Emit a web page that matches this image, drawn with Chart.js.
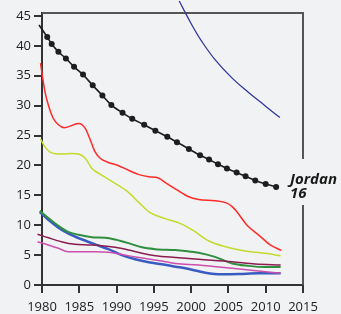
<!DOCTYPE html>
<html>
<head>
<meta charset="utf-8">
<script src="https://cdn.jsdelivr.net/npm/chart.js@4"></script>
<style>
  body { margin: 0; background: #f1f2f4; }
  canvas { display: block; }
</style>
</head>
<body>
<canvas id="chart" width="341" height="314"></canvas>
<script>
const xTicks = [1980, 1985, 1990, 1995, 2000, 2005, 2010, 2015];
const yTicks = [0, 5, 10, 15, 20, 25, 30, 35, 40, 45];

// Jordan (black, dotted)
const jordanYears = [1979.6, 1980.7, 1981.3, 1982.2, 1983.2, 1984.3, 1985.5, 1986.8, 1988.1, 1989.3, 1990.8, 1992.1, 1993.7, 1995.2, 1996.8, 1998.1, 1999.7, 2001.2, 2002.4, 2003.6, 2004.8, 2006.1, 2007.3, 2008.6, 2010.0, 2011.4];
const jordanValues = [43.5, 41.5, 40.3, 39.0, 37.9, 36.5, 35.2, 33.4, 31.7, 30.1, 28.8, 27.8, 26.8, 25.8, 24.8, 23.9, 22.75, 21.7, 21.0, 20.2, 19.5, 18.8, 18.2, 17.5, 16.9, 16.4];

const navyYears = [1998.4, 2000.1, 2001.4, 2003.2, 2005.5, 2007.7, 2009.9, 2011.9];
const navyValues = [47.5, 43.5, 40.8, 37.7, 34.6, 32.2, 30.0, 28.0];

const redYears = [1979.8, 1980.4, 1980.85, 1981.5, 1982.2, 1983.0, 1984.9, 1985.8, 1986.4, 1987.1, 1987.8, 1988.9, 1990.2, 1991.6, 1992.9, 1994.3, 1995.6, 1996.7, 1998.1, 1999.6, 2001.0, 2003.2, 2004.8, 2005.5, 2006.1, 2007.5, 2009.3, 2010.6, 2012.1];
const redValues = [37.1, 32.3, 30.1, 27.9, 26.8, 26.3, 27.0, 26.2, 24.5, 22.3, 21.2, 20.5, 20.0, 19.2, 18.5, 18.1, 17.9, 17.0, 15.9, 14.8, 14.3, 14.1, 13.7, 13.1, 12.3, 10.0, 8.1, 6.7, 5.8];

const limeYears = [1979.8, 1980.4, 1981.3, 1982.6, 1984.0, 1984.9, 1985.8, 1986.7, 1988.0, 1989.8, 1991.6, 1992.9, 1994.5, 1996.5, 1998.5, 2000.3, 2002.3, 2004.6, 2007.7, 2009.9, 2012.0];
const limeValues = [24.4, 23.1, 22.1, 21.9, 22.0, 21.9, 21.2, 19.5, 18.4, 17.0, 15.5, 13.9, 12.1, 11.1, 10.3, 9.1, 7.4, 6.4, 5.6, 5.3, 4.9];

const greenYears = [1979.7, 1980.85, 1982.2, 1983.5, 1984.9, 1986.7, 1988.5, 1989.8, 1991.6, 1993.4, 1995.2, 1997.9, 1999.2, 2001.0, 2003.2, 2005.5, 2007.7, 2009.9, 2012.0];
const greenValues = [12.4, 11.2, 9.9, 8.9, 8.4, 8.0, 7.9, 7.6, 7.0, 6.3, 6.0, 5.85, 5.7, 5.4, 4.7, 3.6, 3.2, 3.0, 3.0];

const blueYears = [1979.7, 1980.85, 1982.2, 1983.5, 1985.3, 1987.1, 1988.9, 1990.7, 1992.5, 1994.3, 1996.1, 1997.9, 1999.2, 2001.9, 2004.1, 2006.4, 2009.0, 2012.0];
const blueValues = [12.2, 10.9, 9.6, 8.65, 7.65, 6.8, 6.0, 5.0, 4.3, 3.8, 3.46, 3.06, 2.8, 2.06, 1.8, 1.84, 1.96, 1.96];

const maroonYears = [1979.4, 1980.85, 1982.6, 1984.4, 1986.2, 1988.0, 1989.8, 1991.6, 1993.4, 1995.2, 1997.9, 2001.0, 2005.5, 2008.6, 2012.0];
const maroonValues = [8.5, 7.9, 7.24, 6.8, 6.7, 6.57, 6.3, 5.85, 5.3, 4.9, 4.6, 4.3, 3.9, 3.5, 3.35];

const pinkYears = [1979.4, 1980.85, 1982.2, 1983.5, 1985.3, 1987.1, 1988.9, 1990.7, 1992.5, 1994.3, 1996.1, 1997.9, 2001.0, 2005.5, 2009.0, 2012.0];
const pinkValues = [7.24, 6.7, 6.14, 5.57, 5.57, 5.57, 5.47, 5.1, 4.7, 4.35, 4.0, 3.6, 3.35, 2.8, 2.34, 1.96];

const bg = '#f1f2f4';

function pts(xs, ys) {
    return xs.map((x, i) => ({ x: x, y: ys[i] }));
}

function smoothLine(xs, ys, color, width) {
    return {
        data: pts(xs, ys),
        borderColor: color,
        borderWidth: width,
        pointRadius: 0,
        cubicInterpolationMode: 'monotone',
        fill: false,
        clip: false
    };
}

// top + right frame, then the label that cuts the right frame
const framePlugin = {
    id: 'frame',
    beforeDatasetsDraw(chart) {
        const { ctx, chartArea: a } = chart;
        ctx.save();
        ctx.strokeStyle = '#555';
        ctx.lineWidth = 2;
        ctx.beginPath();
        ctx.moveTo(a.left, a.top);
        ctx.lineTo(a.right, a.top);
        ctx.lineTo(a.right, a.bottom);
        ctx.stroke();
        ctx.restore();
    },
    afterDraw(chart) {
        const { ctx, chartArea: a } = chart;
        ctx.save();
        ctx.fillStyle = bg;
        ctx.fillRect(a.right - 14, 159, 60, 46);
        ctx.fillStyle = '#1a1a1a';
        ctx.font = 'bold italic 15px "Open Sans"';
        ctx.textBaseline = 'alphabetic';
        ctx.fillText('Jordan', a.right - 13, 184);
        ctx.fillText('16', a.right - 13, 198);
        ctx.restore();
    }
};

const ctx = document.getElementById('chart').getContext('2d');

new Chart(ctx, {
    type: 'line',
    data: {
        datasets: [
            Object.assign(smoothLine(navyYears, navyValues, '#30389a', 1.3), { cubicInterpolationMode: 'default', tension: 0.4 }),
            smoothLine(redYears, redValues, '#ff2a2a', 1.5),
            smoothLine(limeYears, limeValues, '#c5da2c', 1.5),
            smoothLine(maroonYears, maroonValues, '#8b1c4f', 1.5),
            smoothLine(pinkYears, pinkValues, '#cc4fb0', 1.5),
            smoothLine(greenYears, greenValues, '#2f8f3f', 2),
            smoothLine(blueYears, blueValues, '#3a5cc0', 2.5),
            {
                data: pts(jordanYears, jordanValues),
                borderColor: '#1e1e1e',
                backgroundColor: '#1e1e1e',
                borderWidth: 1.6,
                pointRadius: jordanYears.map((y, i) => i === 0 ? 0 : 3),
                pointBorderWidth: 0,
                tension: 0.3,
                fill: false,
                clip: false
            }
        ]
    },
    options: {
        responsive: false,
        animation: false,
        layout: { padding: { top: 13, right: 38, left: 0, bottom: 0 } },
        plugins: {
            legend: { display: false },
            tooltip: { enabled: false }
        },
        scales: {
            x: {
                type: 'linear',
                min: 1980,
                max: 2015,
                afterBuildTicks: axis => { axis.ticks = xTicks.map(v => ({ value: v })); },
                afterFit: axis => { axis.height = 29; },
                grid: { drawOnChartArea: false, tickLength: 8, color: '#333', lineWidth: 2 },
                border: { color: '#333', width: 2 },
                ticks: {
                    padding: 6,
                    color: '#222',
                    font: { family: '"Open Sans"', size: 13 },
                    maxRotation: 0,
                    callback: v => String(v)
                }
            },
            y: {
                min: 0,
                max: 45.5,
                afterBuildTicks: axis => { axis.ticks = yTicks.map(v => ({ value: v })); },
                afterFit: axis => { axis.width = 42; },
                grid: { drawOnChartArea: false, tickLength: 8, color: '#333', lineWidth: 2 },
                border: { color: '#333', width: 2 },
                ticks: {
                    padding: 3,
                    color: '#222',
                    font: { family: '"Open Sans"', size: 13 }
                }
            }
        }
    },
    plugins: [framePlugin]
});
</script>
</body>
</html>
